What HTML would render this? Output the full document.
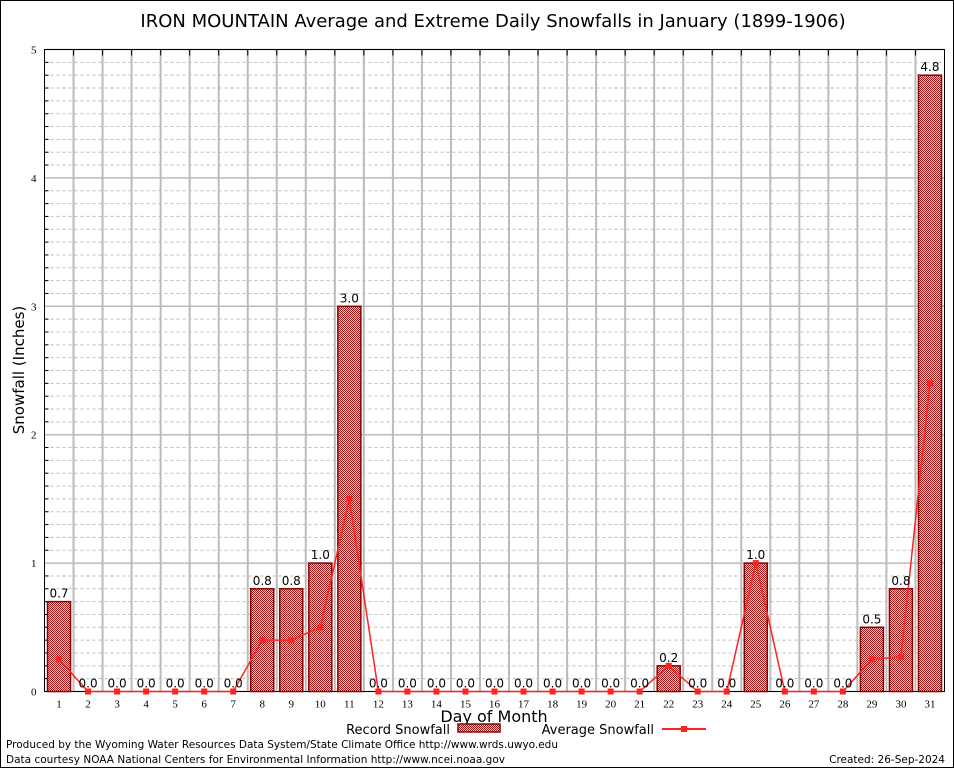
<!DOCTYPE html>
<html><head><meta charset="utf-8"><style>
body{margin:0;background:#fff}
svg{display:block;font-family:"DejaVu Sans","Liberation Sans",sans-serif}
</style></head><body>
<svg id="c" width="954" height="768">
<defs><pattern id="hatch" width="2" height="2" patternUnits="userSpaceOnUse"><rect width="2" height="2" fill="#f0c8c8"/><rect width="1" height="1" fill="#a01818"/><rect x="1" y="1" width="1" height="1" fill="#a01818"/></pattern></defs>
<rect x="0.5" y="0.5" width="953" height="767" fill="#fff" stroke="#000"/>
<text x="493" y="27" font-size="18" text-anchor="middle">IRON MOUNTAIN Average and Extreme Daily Snowfalls in January (1899-1906)</text>
<g id="grid"></g><g id="bars"></g><g id="line"></g><g id="labels"></g>
<text x="24" y="370" font-size="15" text-anchor="middle" transform="rotate(-90 24 370)">Snowfall (Inches)</text>
<text x="494" y="722" font-size="16" text-anchor="middle">Day of Month</text>
<g font-size="13">
<text x="450" y="734" text-anchor="end">Record Snowfall</text>
<rect x="458" y="724" width="42" height="8" fill="url(#hatch)" stroke="#8b0000" stroke-width="1.5"/>
<text x="654" y="734" text-anchor="end">Average Snowfall</text>
<line x1="662" y1="729" x2="706" y2="729" stroke="#f22" stroke-width="2"/>
<rect x="681" y="726" width="6" height="6" fill="#f22"/>
</g>
<text x="6" y="748" font-size="10.5" textLength="552">Produced by the Wyoming Water Resources Data System/State Climate Office http://www.wrds.uwyo.edu</text>
<text x="6" y="763" font-size="10.5" textLength="499">Data courtesy NOAA National Centers for Environmental Information http://www.ncei.noaa.gov</text>
<text x="945" y="763" font-size="10.5" text-anchor="end">Created: 26-Sep-2024</text>
</svg>
<script>
const days=[1,2,3,4,5,6,7,8,9,10,11,12,13,14,15,16,17,18,19,20,21,22,23,24,25,26,27,28,29,30,31];
const recordSnow=[0.7,0,0,0,0,0,0,0.8,0.8,1.0,3.0,0,0,0,0,0,0,0,0,0,0,0.2,0,0,1.0,0,0,0,0.5,0.8,4.8];
const avgSnow=[0.25,0,0,0,0,0,0,0.4,0.4,0.5,1.5,0,0,0,0,0,0,0,0,0,0,0.2,0,0,1.0,0,0,0,0.25,0.27,2.4];
const yTicks=[0,1,2,3,4,5];
const L=44.5,R=944.5,T=49.5,B=691.5,yMax=5;
const bw=(R-L)/days.length;
const xs=d=>L+(d-0.5)*bw;
const ys=v=>B-v/yMax*(B-T);
const NS="http://www.w3.org/2000/svg";
function mk(p,tag,a){const e=document.createElementNS(NS,tag);for(const k in a)e.setAttribute(k,a[k]);p.appendChild(e);return e;}
const g=document.getElementById('grid'),gb=document.getElementById('bars'),gl=document.getElementById('line'),gt=document.getElementById('labels');
for(let i=1;i<yMax*10;i++){if(i%10===0)continue;const y=ys(i/10);
const l=mk(g,'line',{x1:L,x2:R,y1:y,y2:y,stroke:'#bbb','stroke-dasharray':'3,3'});

const t=mk(g,'line',{x1:L,x2:L+4,y1:y,y2:y,stroke:'#000'});}
yTicks.forEach(v=>{const y=ys(v);
const l=mk(g,'line',{x1:L,x2:R,y1:y,y2:y,stroke:'#bbb','stroke-width':1.5});

const t=mk(g,'text',{x:L-8,y:y+4,'font-size':11,'text-anchor':'end','font-family':'Liberation Serif,serif'});t.textContent=v;
});
for(let i=1;i<days.length;i++){const x=L+i*bw;
const l=mk(g,'line',{x1:x,x2:x,y1:T,y2:B,stroke:'#bbb','stroke-width':2});

const t=mk(g,'line',{x1:x,x2:x,y1:T,y2:T+6,stroke:'#000'});}
const fr=mk(g,'rect',{x:L,y:T,width:R-L,height:B-T,fill:'none',stroke:'#000'});

days.forEach((d,i)=>{const v=recordSnow[i],x=xs(d);
if(v>0){const r=mk(gb,'rect',{x:x-11.5,y:ys(v),width:23,height:B-ys(v),fill:'url(#hatch)',stroke:'#8b0000','stroke-width':1.5});
}
const t=mk(gt,'text',{x:x,y:ys(v)-4,'font-size':12,'text-anchor':'middle'});t.textContent=v.toFixed(1);

const xl=mk(gt,'text',{x:x,y:B+16,'font-size':11,'text-anchor':'middle','font-family':'Liberation Serif,serif'});xl.textContent=d;
});
const pl=mk(gl,'polyline',{points:days.map((d,i)=>xs(d)+','+ys(avgSnow[i])).join(' '),fill:'none',stroke:'#f22','stroke-width':1.5});

days.forEach((d,i)=>{const m=mk(gl,'rect',{x:xs(d)-3,y:ys(avgSnow[i])-3,width:6,height:6,fill:'#f22'});
});
</script>
</body></html>
